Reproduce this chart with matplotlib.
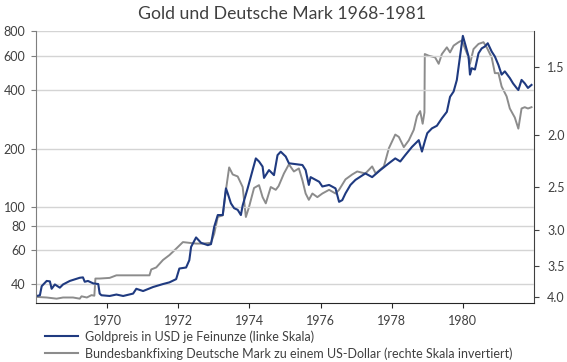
import matplotlib
matplotlib.use("Agg")
import matplotlib.pyplot as plt
from matplotlib.ticker import FixedLocator, FixedFormatter, NullLocator
from matplotlib.lines import Line2D

plt.rcParams['font.family'] = ['Lato', 'DejaVu Sans']

# ---- data ----
gold_t = [1968.02, 1968.11, 1968.16, 1968.30, 1968.39, 1968.44, 1968.53, 1968.67, 1968.76, 1968.95,
          1969.23, 1969.32, 1969.37, 1969.46, 1969.61, 1969.75, 1969.79, 1969.84, 1970.07, 1970.26,
          1970.45, 1970.73, 1970.82, 1971.01, 1971.29, 1971.57, 1971.75, 1971.94, 1972.03, 1972.22,
          1972.31, 1972.36, 1972.50, 1972.64, 1972.83, 1972.92, 1973.01, 1973.11, 1973.25, 1973.34,
          1973.39, 1973.48, 1973.57, 1973.67, 1973.76, 1973.81, 1973.95, 1974.09, 1974.18, 1974.27,
          1974.37, 1974.41, 1974.55, 1974.69, 1974.79, 1974.88, 1975.02, 1975.11, 1975.49, 1975.58,
          1975.67, 1975.72, 1975.96, 1976.05, 1976.24, 1976.42, 1976.52, 1976.61, 1976.70, 1976.84,
          1976.98, 1977.26, 1977.45, 1977.68, 1977.92, 1978.10, 1978.24, 1978.38, 1978.57, 1978.76,
          1978.85, 1978.94, 1979.00, 1979.13, 1979.27, 1979.41, 1979.55, 1979.64, 1979.74, 1979.83,
          1979.92, 1980.00, 1980.07, 1980.16, 1980.20, 1980.25, 1980.34, 1980.44, 1980.53, 1980.62,
          1980.70, 1980.81, 1980.90, 1981.00, 1981.09, 1981.18, 1981.32, 1981.41, 1981.51, 1981.56,
          1981.65, 1981.74, 1981.83, 1981.93]
gold_usd = [34.9, 35.2, 39.2, 41.7, 41.5, 38.0, 40.0, 38.5, 40.0, 41.7,
            43.3, 43.5, 41.3, 41.7, 40.5, 40.2, 35.9, 35.2, 34.9, 35.5,
            34.9, 35.9, 38.0, 37.0, 38.8, 40.2, 41.0, 42.6, 48.3, 48.9,
            53.3, 62.4, 69.8, 65.5, 63.7, 64.5, 79.2, 91.0, 91.0, 124.8,
            117.6, 104.5, 98.7, 96.8, 91.0, 102.0, 124.8, 155.0, 178.0, 171.6,
            161.5, 141.3, 155.0, 146.0, 185.0, 192.7, 182.0, 168.0, 164.6, 155.0,
            130.0, 142.6, 135.0, 127.6, 130.0, 124.8, 106.4, 108.6, 117.6, 130.0,
            138.0, 149.0, 142.6, 155.0, 168.0, 178.0, 171.6, 185.0, 204.0, 221.0,
            193.0, 221.0, 240.0, 254.0, 262.0, 286.0, 309.0, 369.0, 393.0, 450.0,
            595.0, 760.0, 684.0, 595.0, 480.0, 518.0, 510.0, 618.0, 655.0, 670.0,
            696.0, 631.0, 595.0, 538.0, 480.0, 499.0, 461.0, 433.0, 410.0, 400.0,
            451.0, 433.0, 410.0, 425.0]

dm_t = [1968.02, 1968.30, 1968.58, 1968.76, 1969.04, 1969.23, 1969.28, 1969.43, 1969.56, 1969.64,
        1969.67, 1969.79, 1970.07, 1970.26, 1970.63, 1971.19, 1971.24, 1971.38, 1971.57, 1971.75,
        1971.94, 1972.13, 1972.31, 1972.50, 1972.69, 1972.92, 1973.01, 1973.11, 1973.25, 1973.34,
        1973.43, 1973.53, 1973.67, 1973.81, 1973.90, 1973.99, 1974.13, 1974.27, 1974.37, 1974.46,
        1974.60, 1974.74, 1974.82, 1974.97, 1975.11, 1975.25, 1975.39, 1975.49, 1975.58, 1975.67,
        1975.77, 1975.91, 1976.05, 1976.24, 1976.42, 1976.52, 1976.70, 1976.89, 1977.03, 1977.26,
        1977.45, 1977.55, 1977.78, 1977.92, 1978.10, 1978.20, 1978.34, 1978.48, 1978.62, 1978.71,
        1978.80, 1978.87, 1978.92, 1978.93, 1979.04, 1979.22, 1979.32, 1979.41, 1979.55, 1979.64,
        1979.74, 1979.88, 1979.97, 1980.16, 1980.20, 1980.30, 1980.44, 1980.58, 1980.67, 1980.81,
        1980.90, 1981.00, 1981.09, 1981.23, 1981.32, 1981.46, 1981.56, 1981.65, 1981.74, 1981.83,
        1981.93]
dm_per_usd = [3.99, 4.00, 4.02, 4.00, 4.00, 4.02, 3.98, 4.00, 3.96, 3.97,
              3.69, 3.69, 3.68, 3.64, 3.64, 3.64, 3.55, 3.52, 3.41, 3.34,
              3.25, 3.16, 3.17, 3.18, 3.18, 3.17, 3.05, 2.84, 2.82, 2.53,
              2.30, 2.37, 2.39, 2.50, 2.84, 2.72, 2.51, 2.48, 2.61, 2.68,
              2.50, 2.53, 2.49, 2.36, 2.27, 2.34, 2.31, 2.43, 2.57, 2.64,
              2.57, 2.61, 2.57, 2.53, 2.57, 2.53, 2.42, 2.37, 2.34, 2.36,
              2.29, 2.36, 2.29, 2.12, 2.00, 2.02, 2.11, 2.05, 1.96, 1.85,
              1.81, 1.91, 1.82, 1.42, 1.43, 1.44, 1.48, 1.42, 1.38, 1.41,
              1.37, 1.35, 1.34, 1.44, 1.48, 1.39, 1.36, 1.35, 1.38, 1.44,
              1.54, 1.54, 1.63, 1.70, 1.79, 1.86, 1.95, 1.79, 1.78, 1.79,
              1.78]

x_ticks = [1970, 1972, 1974, 1976, 1978, 1980]
left_ticks = [40, 60, 80, 100, 200, 400, 600, 800]
right_ticks = [1.5, 2.0, 2.5, 3.0, 3.5, 4.0]

title = "Gold und Deutsche Mark 1968-1981"
label_gold = "Goldpreis in USD je Feinunze (linke Skala)"
label_dm = "Bundesbankfixing Deutsche Mark zu einem US-Dollar (rechte Skala invertiert)"

# ---- styling ----
BLUE = "#1F3A80"
GRAY = "#8C8C8C"
TXT = "#404040"

fig = plt.figure(figsize=(5.67, 3.62), dpi=100)
ax = fig.add_axes([36/567, 1-303.3/362, 498/567, (303.3-31.5)/362])
ax2 = ax.twinx()

ax2.plot(dm_t, dm_per_usd, color=GRAY, lw=1.4, solid_joinstyle='round')
ax.plot(gold_t, gold_usd, color=BLUE, lw=1.5, solid_joinstyle='round')
ax.set_zorder(ax2.get_zorder() + 1)
ax.patch.set_visible(False)

ax.set_yscale('log')
ax.set_ylim(32, 800)
ax.yaxis.set_major_locator(FixedLocator(left_ticks))
ax.yaxis.set_major_formatter(FixedFormatter([str(v) for v in left_ticks]))
ax.yaxis.set_minor_locator(NullLocator())
ax.grid(axis='y', color='#D4D4D4', lw=1.0)
ax.set_axisbelow(True)

ax2.set_yscale('log')
ax2.set_ylim(4.1, 1.29)
ax2.yaxis.set_major_locator(FixedLocator(right_ticks))
ax2.yaxis.set_major_formatter(FixedFormatter([f"{v:.1f}" for v in right_ticks]))
ax2.yaxis.set_minor_locator(NullLocator())

ax.set_xlim(1968.0, 1982.0)
ax.set_xticks(x_ticks)
ax.set_xticklabels([str(v) for v in x_ticks])

for a in (ax, ax2):
    a.spines['top'].set_visible(False)
    a.tick_params(labelsize=9, colors=TXT, length=3.5, width=0.8, pad=4)
ax.spines['left'].set_color('#7F7F7F')
ax.spines['bottom'].set_color('#262626')
ax.spines['right'].set_visible(False)
ax2.spines['left'].set_visible(False)
ax2.spines['bottom'].set_visible(False)
ax2.spines['right'].set_color('#404040')
ax.tick_params(axis='x', colors='#262626', labelcolor=TXT, pad=5)
ax.tick_params(axis='y', colors='#7F7F7F', labelcolor=TXT)
ax2.tick_params(axis='y', colors='#404040', labelcolor=TXT, pad=6)

fig.text(282/567, 1-14/362, title, ha='center', va='center', fontsize=12.7, color=TXT)

handles = [Line2D([], [], color=BLUE, lw=1.5), Line2D([], [], color=GRAY, lw=1.5)]
fig.legend(handles, [label_gold, label_dm], loc='upper left',
           bbox_to_anchor=(39/567, 1-324/362), frameon=False, fontsize=9,
           handlelength=2.6, handletextpad=0.55, labelspacing=0.35, borderpad=0,
           labelcolor=TXT)

fig.savefig("out.png", dpi=100)
